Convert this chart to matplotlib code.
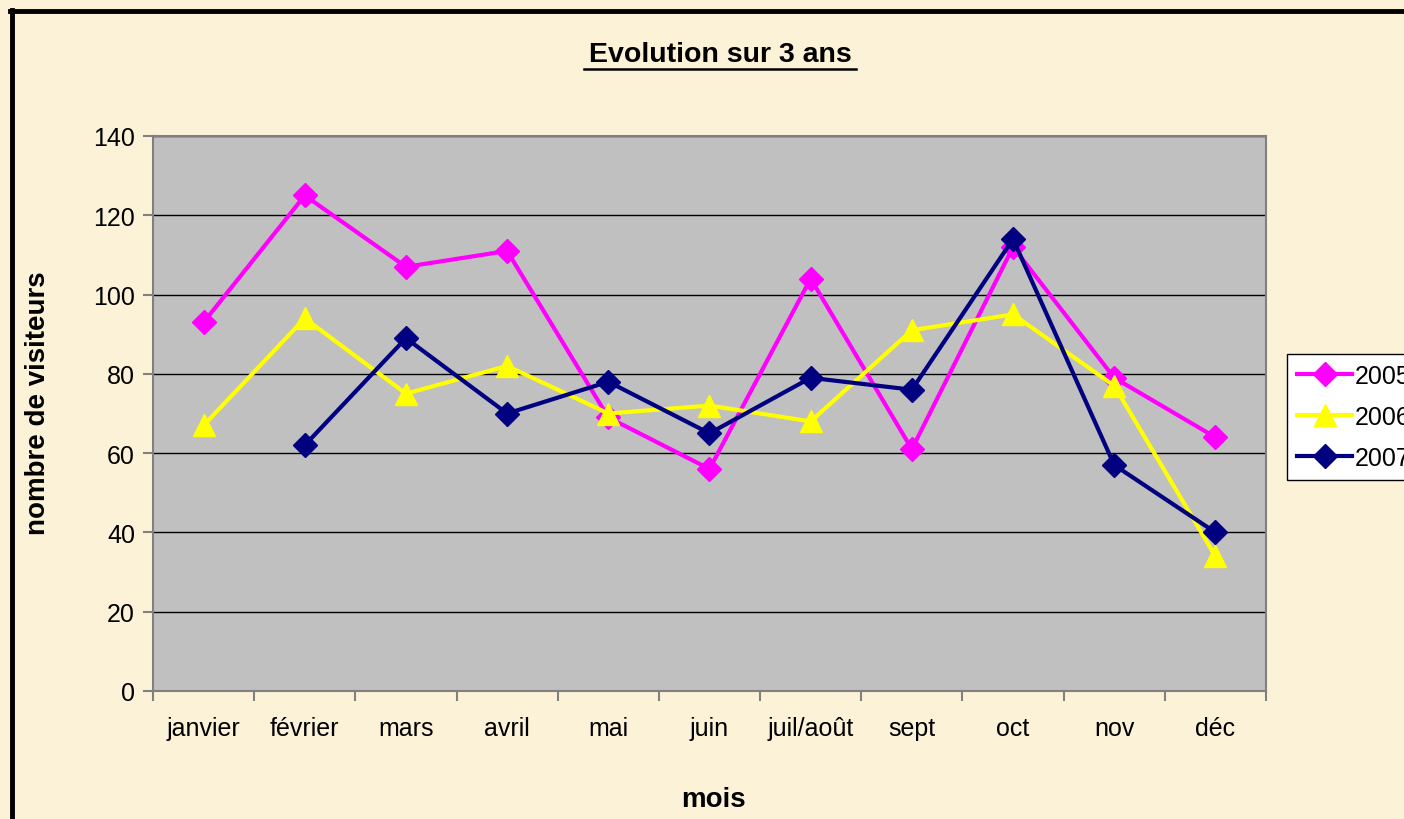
import numpy as np
import matplotlib.pyplot as plt
from matplotlib.lines import Line2D

plt.rcParams['font.family'] = ['Liberation Sans', 'DejaVu Sans']

mois = ["janvier", "février", "mars", "avril", "mai", "juin",
        "juil/août", "sept", "oct", "nov", "déc"]
v2005 = [93, 125, 107, 111, 69, 56, 104, 61, 112, 79, 64]
v2006 = [67, 94, 75, 82, 70, 72, 68, 91, 95, 77, 34]
v2007 = [np.nan, 62, 89, 70, 78, 65, 79, 76, 114, 57, 40]

fig = plt.figure(figsize=(14.04, 8.2), dpi=100)
fig.patch.set_facecolor("#FCF2D8")

# cadre noir du graphique (coupé à droite et en bas)
fig.add_artist(Line2D([12 / 1404, 12 / 1404], [0, 1 - 11 / 820], color="black", lw=3.5,
                      transform=fig.transFigure))
fig.add_artist(Line2D([10 / 1404, 1], [1 - 12 / 820, 1 - 12 / 820], color="black", lw=3.5,
                      transform=fig.transFigure))

ax = fig.add_axes([153 / 1404, 1 - 692 / 820, (1266 - 153) / 1404, (692 - 137) / 820])
ax.set_facecolor("#C0C0C0")

x = np.arange(len(mois))
ax.plot(x, v2005, color="#FF00FF", lw=3, marker="D", markersize=12.5, label="2005")
ax.plot(x, v2006, color="#FFFF00", lw=3, marker="^", markersize=16, label="2006")
ax.plot(x, v2007, color="#000080", lw=3, marker="D", markersize=12.5, label="2007")

ax.set_xlim(-0.5, len(mois) - 0.5)
ax.set_ylim(0, 140)
ax.set_yticks(range(0, 141, 20))
ax.yaxis.grid(True, color="black", lw=1)
ax.set_axisbelow(True)

ax.set_xticks(np.arange(-0.5, len(mois), 1))
ax.set_xticklabels([])
ax.set_xticks(x, minor=True)
ax.set_xticklabels(mois, minor=True)
ax.tick_params(axis="x", which="minor", length=0, pad=18, labelsize=18)
ax.tick_params(axis="x", which="major", length=7, color="#808080", width=1.5)
ax.tick_params(axis="y", length=7, color="#808080", width=1.5, pad=6, labelsize=18)

for s in ax.spines.values():
    s.set_color("#808080")
    s.set_linewidth(1.5)

fig.text(720 / 1404, 1 - 55 / 820, "Evolution sur 3 ans", ha="center", va="center",
         fontsize=20.5, fontweight="bold")
fig.add_artist(Line2D([584 / 1404, 856 / 1404], [1 - 70 / 820, 1 - 70 / 820], color="black",
                      lw=1.8, transform=fig.transFigure))
fig.text(38 / 1404, 1 - 403 / 820, "nombre de visiteurs", ha="center", va="center",
         rotation=90, fontsize=20, fontweight="bold")
fig.text(713 / 1404, 1 - 800 / 820, "mois", ha="center", va="center",
         fontsize=20, fontweight="bold")

leg = fig.legend(loc="upper left", bbox_to_anchor=(1287 / 1404, 1 - 355 / 820),
                 fontsize=18, handlelength=2.2, handletextpad=0.12, labelspacing=0.68,
                 fancybox=False, framealpha=1, borderaxespad=0, borderpad=0.4)
leg.get_frame().set_edgecolor("black")
leg.get_frame().set_linewidth(1)

fig.savefig("out.png", dpi=100, facecolor=fig.get_facecolor())
